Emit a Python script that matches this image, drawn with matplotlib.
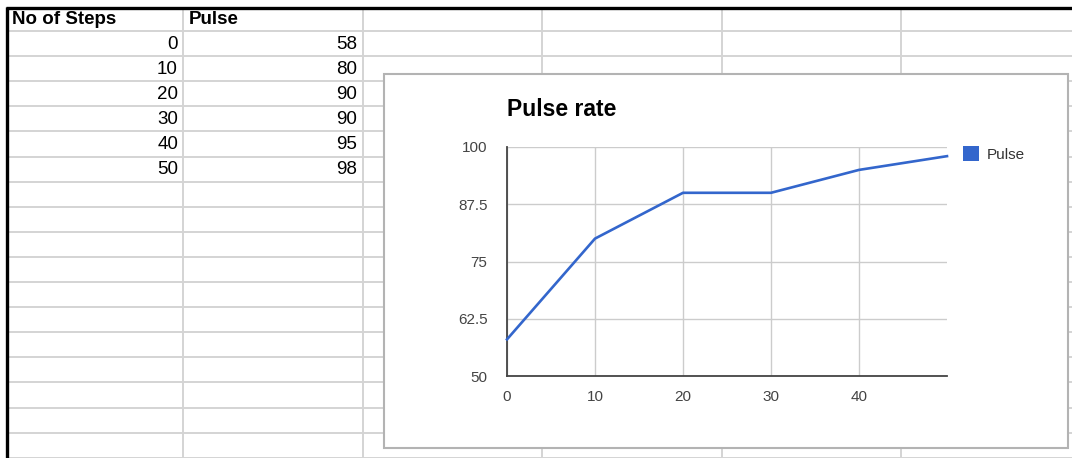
import matplotlib
matplotlib.use('Agg')
import matplotlib.pyplot as plt
from matplotlib.patches import Rectangle, Patch

# ---- data ----
steps = [0, 10, 20, 30, 40, 50]
pulse = [58, 80, 90, 90, 95, 98]
col_headers = ['No of Steps', 'Pulse']
series_name = 'Pulse'
chart_title = 'Pulse rate'
y_ticks = [50, 62.5, 75, 87.5, 100]
y_tick_labels = ['50', '62.5', '75', '87.5', '100']
x_ticks = [0, 10, 20, 30, 40]
x_tick_labels = ['0', '10', '20', '30', '40']

plt.rcParams['font.family'] = ['Liberation Sans', 'DejaVu Sans']

W, H = 1072, 458
fig = plt.figure(figsize=(W / 100, H / 100), dpi=100)
fig.patch.set_facecolor('white')

# ---- spreadsheet background ----
bg = fig.add_axes([0, 0, 1, 1])
bg.set_xlim(0, W)
bg.set_ylim(H, 0)
bg.axis('off')

grid_c = '#d4d4d4'
col_x = [183, 363, 542, 722, 901]
for x in col_x:
    bg.plot([x, x], [8, H], color=grid_c, lw=1.4, zorder=1)
row_y0, row_h = 31, 25.1
yy = row_y0
while yy < H:
    bg.plot([7, W], [yy, yy], color=grid_c, lw=1.4, zorder=1)
    yy += row_h

bg.plot([6, W], [8, 8], color='black', lw=2.4, zorder=3, solid_capstyle='butt')
bg.plot([7, 7], [7, H], color='black', lw=2.4, zorder=3, solid_capstyle='butt')

# table text
bg.text(12, 19.5, col_headers[0], fontsize=13.5, fontweight='bold', ha='left', va='center', zorder=4)
bg.text(189, 19.5, col_headers[1], fontsize=13.5, fontweight='bold', ha='left', va='center', zorder=4)
for i, (s, p) in enumerate(zip(steps, pulse)):
    yc = row_y0 + row_h * i + row_h / 2 + 0.5
    bg.text(178, yc, str(s), fontsize=13.5, ha='right', va='center', zorder=4)
    bg.text(357, yc, str(p), fontsize=13.5, ha='right', va='center', zorder=4)

# chart box
bg.add_patch(Rectangle((384, 74), 684, 374, facecolor='white', edgecolor='#b3b3b3',
                       lw=1.5, zorder=5))

# ---- chart ----
ax_l, ax_r, ax_t, ax_b = 507, 947, 147, 376
ax = fig.add_axes([ax_l / W, 1 - ax_b / H, (ax_r - ax_l) / W, (ax_b - ax_t) / H])
ax.set_zorder(10)
ax.patch.set_alpha(0)
ax.plot(steps, pulse, color='#3366cc', lw=1.9, label=series_name, zorder=3,
        solid_joinstyle='round', clip_on=False)
ax.set_xlim(0, 50)
ax.set_ylim(50, 100)
ax.set_yticks(y_ticks, y_tick_labels)
ax.set_xticks(x_ticks, x_tick_labels)
ax.grid(True, color='#cccccc', lw=1.0)
ax.set_axisbelow(True)
for sp in ['top', 'right']:
    ax.spines[sp].set_visible(False)
for sp in ['left', 'bottom']:
    ax.spines[sp].set_color('#444444')
    ax.spines[sp].set_linewidth(1.3)
ax.tick_params(length=0, labelsize=11, labelcolor='#444444')
ax.tick_params(axis='y', pad=14)
ax.tick_params(axis='x', pad=10)

fig.text(ax_l / W, 1 - 109 / H, chart_title, fontsize=16.5, fontweight='bold',
         ha='left', va='center', zorder=20)

leg = ax.legend(handles=[Patch(facecolor='#3366cc', edgecolor='none', label=series_name)],
                loc='center left', bbox_to_anchor=(963 / W, 1 - 154 / H),
                bbox_transform=fig.transFigure, frameon=False, fontsize=11,
                handlelength=1.05, handleheight=1.05, handletextpad=0.5,
                borderpad=0, borderaxespad=0)
for t in leg.get_texts():
    t.set_color('#333333')

fig.savefig('out.png', dpi=100, facecolor='white')
